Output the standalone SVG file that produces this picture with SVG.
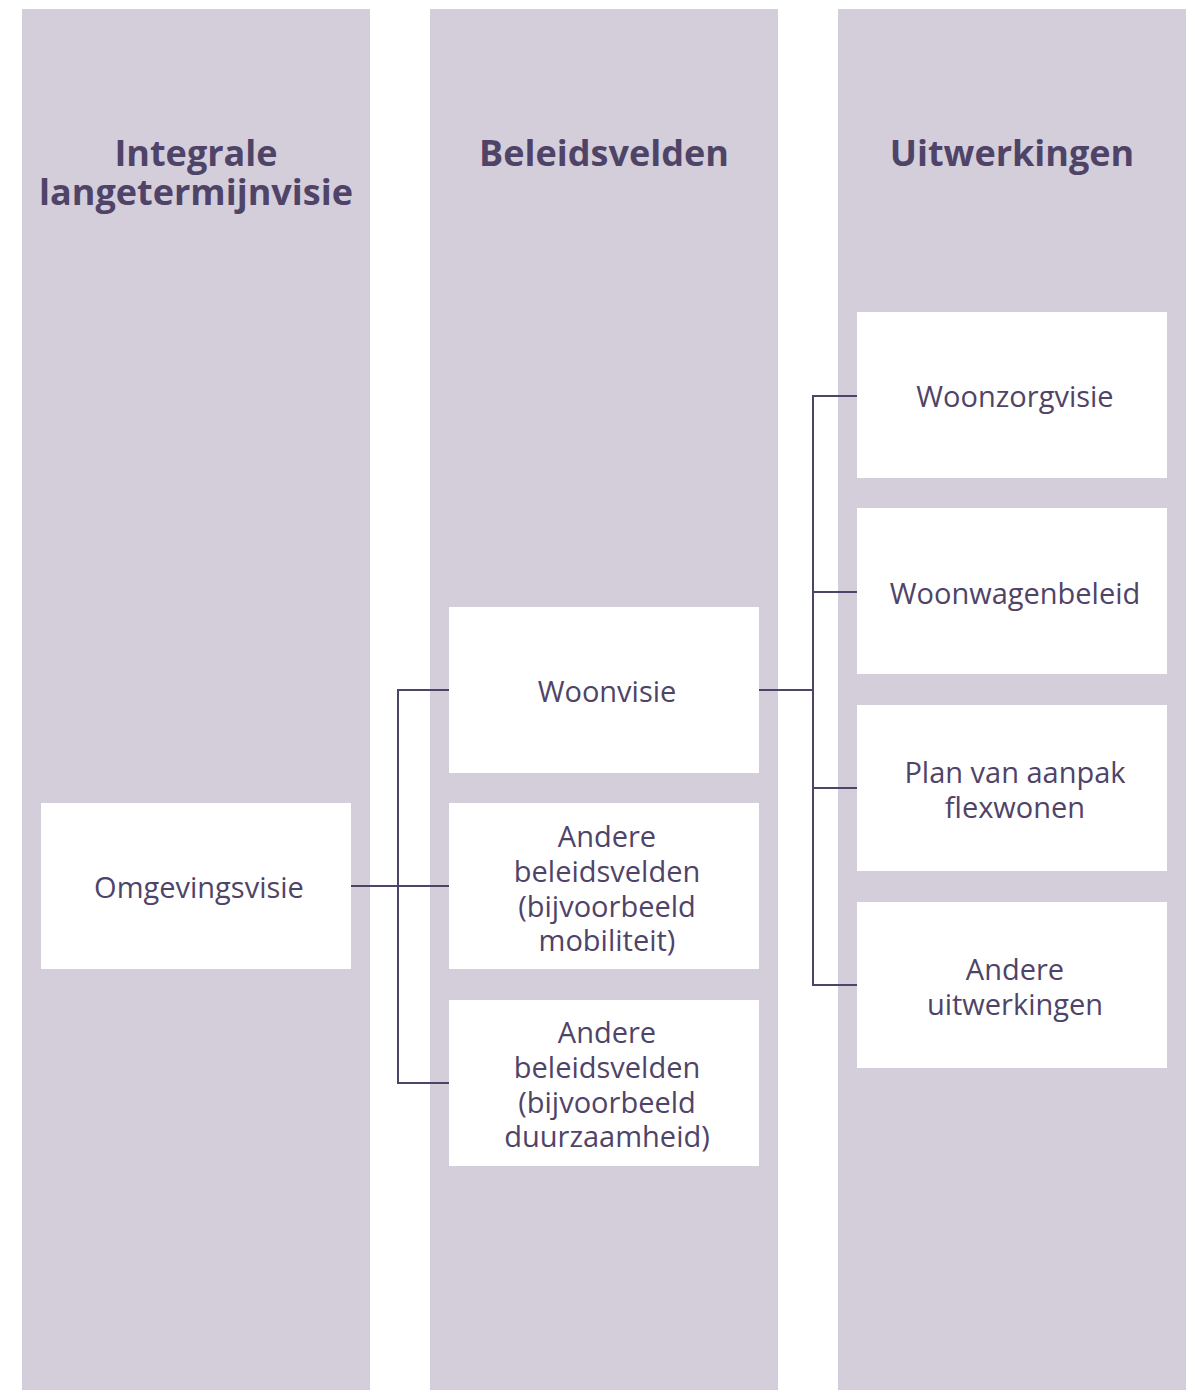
<svg xmlns="http://www.w3.org/2000/svg" width="1198" height="1390" viewBox="0 0 1198 1390">
<style>
.col{fill:#d4cedb}
.box{fill:#ffffff}
.hd{font-family:"Open Sans","Liberation Sans",sans-serif;font-weight:700;font-size:36px;fill:#4f4468;text-anchor:middle}
.t{font-family:"Open Sans","Liberation Sans",sans-serif;font-size:29px;fill:#4f4468;text-anchor:middle}
.ln{fill:none;stroke:#4f4468;stroke-width:2}
</style>
<rect width="1198" height="1390" fill="#ffffff"/>
<g id="col1"><rect class="col" x="22" y="9" width="348" height="1381"/><text class="hd" x="196" y="166">Integrale</text><text class="hd" x="196" y="205">langetermijnvisie</text></g>
<g id="col2"><rect class="col" x="430" y="9" width="348" height="1381"/><text class="hd" x="604" y="166">Beleidsvelden</text></g>
<g id="col3"><rect class="col" x="838" y="9" width="348" height="1381"/><text class="hd" x="1012" y="166">Uitwerkingen</text></g>
<g id="connectors">
<polyline class="ln" points="449,690 398,690 398,1083 449,1083"/>
<line class="ln" x1="351" y1="886" x2="449" y2="886"/>
<polyline class="ln" points="857,396 813,396 813,985 857,985"/>
<line class="ln" x1="813" y1="592" x2="857" y2="592"/>
<line class="ln" x1="813" y1="788" x2="857" y2="788"/>
<line class="ln" x1="759" y1="690" x2="813" y2="690"/>
</g>
<g id="omgevingsvisie"><rect class="box" x="41" y="803" width="310" height="166"/><text class="t" x="199" y="898">Omgevingsvisie</text></g>
<g id="woonvisie"><rect class="box" x="449" y="607" width="310" height="166"/><text class="t" x="607" y="702">Woonvisie</text></g>
<g id="andere-mobiliteit"><rect class="box" x="449" y="803" width="310" height="166"/><text class="t" x="607" y="847">Andere</text><text class="t" x="607" y="882">beleidsvelden</text><text class="t" x="607" y="917">(bijvoorbeeld</text><text class="t" x="607" y="951">mobiliteit)</text></g>
<g id="andere-duurzaamheid"><rect class="box" x="449" y="1000" width="310" height="166"/><text class="t" x="607" y="1043">Andere</text><text class="t" x="607" y="1078">beleidsvelden</text><text class="t" x="607" y="1113">(bijvoorbeeld</text><text class="t" x="607" y="1147">duurzaamheid)</text></g>
<g id="woonzorgvisie"><rect class="box" x="857" y="312" width="310" height="166"/><text class="t" x="1015" y="407">Woonzorgvisie</text></g>
<g id="woonwagenbeleid"><rect class="box" x="857" y="508" width="310" height="166"/><text class="t" x="1015" y="604">Woonwagenbeleid</text></g>
<g id="plan-flexwonen"><rect class="box" x="857" y="705" width="310" height="166"/><text class="t" x="1015" y="783">Plan van aanpak</text><text class="t" x="1015" y="818">flexwonen</text></g>
<g id="andere-uitwerkingen"><rect class="box" x="857" y="902" width="310" height="166"/><text class="t" x="1015" y="980">Andere</text><text class="t" x="1015" y="1015">uitwerkingen</text></g>
</svg>
